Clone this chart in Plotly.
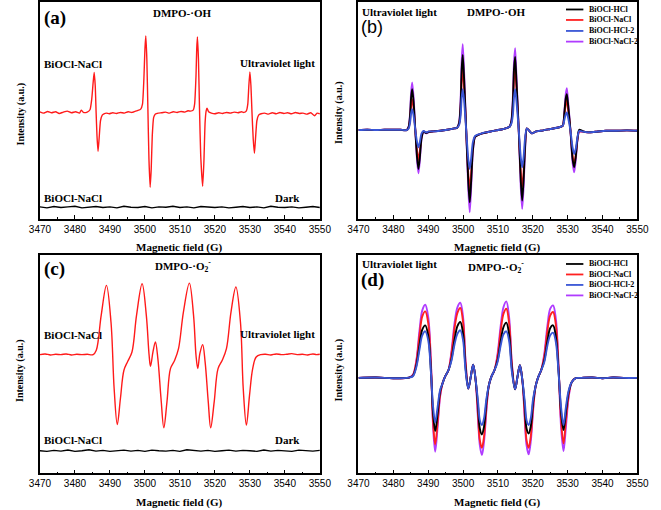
import plotly.graph_objects as go

# ---------------- data (intensity in arbitrary units) ----------------
# Panel (a): DMPO-·OH, BiOCl-NaCl, UV light (red) and dark (black)
A_UV_X = [3470, 3471, 3472.2, 3473.3, 3474.5, 3475.5, 3476.7, 3477.8, 3479, 3480.2, 3481.3, 3481.8, 3482.4, 3483.5,
          3484.3, 3484.8, 3485.2, 3485.5, 3485.8, 3486.05, 3486.3, 3486.6, 3486.9, 3487.3, 3487.8, 3488.3, 3489,
          3489.8, 3490.8, 3491.9, 3493, 3494.1, 3495.2, 3496.3, 3497.3,
          3498.0, 3498.8, 3499.3, 3499.7, 3500.0, 3500.25, 3500.55, 3500.85, 3501.15, 3501.5, 3501.8, 3502.1, 3502.5, 3503.0, 3503.8,
          3504.8, 3505.9, 3507, 3508.1, 3509.2, 3510.3, 3511.4, 3512.3,
          3513.0, 3513.8, 3514.2, 3514.6, 3514.8, 3515.0, 3515.3, 3515.6, 3515.95, 3516.5, 3516.85, 3517.2, 3517.5, 3517.75, 3518.2, 3519.0,
          3520, 3521.1, 3522.2, 3523.3, 3524.4, 3525.5, 3526.6, 3527.6,
          3528.3, 3529.0, 3529.4, 3529.7, 3530.0, 3530.3, 3530.6, 3530.95, 3531.3, 3531.6, 3532.0, 3532.5, 3533.2,
          3534.2, 3535.3, 3536.4, 3537.5, 3538.6, 3539.7, 3540.8, 3541.9, 3543, 3544.1, 3545.2, 3546.3, 3547.4, 3548.5, 3549.2, 3550]
A_UV_Y = [322, 318, 323, 319, 322, 317, 321, 324, 319, 322, 318, 327, 320, 321,
          328, 360, 410, 440, 400, 320, 250, 203, 240, 295, 312, 316, 318,
          316, 319, 317, 320, 318, 322, 320, 324,
          326, 330, 345, 420, 510, 550, 480, 330, 180, 95, 150, 250, 305, 315, 318,
          319, 321, 318, 322, 320, 323, 321, 325,
          324, 327, 345, 430, 510, 547, 480, 330, 190, 98, 170, 290, 325, 333, 322, 318,
          316, 319, 317, 320, 318, 321, 319, 322,
          320, 325, 345, 400, 442, 400, 320, 240, 197, 240, 295, 312, 316,
          318, 315, 319, 316, 320, 317, 319, 316, 320, 317, 318, 315, 319, 310, 318, 316]

DARK_X = [3470, 3472, 3474, 3476, 3478, 3480, 3482, 3484, 3486, 3488, 3490, 3492, 3494, 3496, 3498, 3500,
          3502, 3504, 3506, 3508, 3510, 3512, 3514, 3516, 3518, 3520, 3522, 3524, 3526, 3528, 3530, 3532,
          3534, 3536, 3538, 3540, 3542, 3544, 3546, 3548, 3550]
A_DARK_Y = [36, 33, 37, 34, 36, 38, 33, 35, 37, 34, 36, 33, 38, 35, 34, 37, 33, 36, 35, 38, 34, 36, 33, 37, 35,
            34, 36, 33, 35, 37, 34, 36, 33, 38, 35, 34, 36, 33, 35, 37, 34]

# Panel (b): DMPO-·OH, four samples under UV light
B_X = [3470, 3472.5, 3475, 3477.5, 3480, 3482,
       3483.8, 3484.4, 3484.8, 3485.1, 3485.4, 3485.8, 3486.3, 3486.8, 3487.2, 3487.6, 3488.1, 3488.7, 3489.4, 3490.2,
       3491.5, 3493.5, 3495.5, 3497.5,
       3498.3, 3498.9, 3499.3, 3499.6, 3499.9, 3500.3, 3500.9, 3501.5, 3501.9, 3502.3, 3502.8, 3503.4, 3504.2, 3505.5, 3507.5, 3509.5, 3511.5, 3513.0,
       3513.4, 3513.9, 3514.3, 3514.6, 3514.93, 3515.3, 3515.95, 3516.55, 3516.95, 3517.35, 3517.8, 3518.3, 3519.7, 3521.0, 3523.0, 3525.0, 3527.0, 3528.0,
       3528.6, 3529.1, 3529.45, 3529.75, 3530.1, 3530.8, 3531.4, 3531.86, 3532.3, 3532.8, 3533.3, 3534.5, 3536, 3538, 3541, 3544, 3547, 3550]
B_HCL = [267, 268, 267, 268, 268, 268,
         267, 277, 310, 365, 390, 353, 267, 185, 150, 185, 244, 263, 258, 262,
         263, 265, 268, 272,
         274, 290, 345, 450, 493, 420, 265, 110, 50, 110, 205, 246, 252, 257, 262, 266, 270, 275,
         278, 296, 355, 450, 487, 415, 270, 115, 55, 115, 220, 272, 257, 263, 266, 270, 274, 277,
         280, 325, 362, 375, 345, 265, 180, 155, 185, 240, 268, 263, 260, 262, 265, 265, 266, 265]
B_NACL = [267, 268, 267, 268, 268, 268,
          267, 274, 300, 341, 360, 332, 267, 204, 177, 204, 249, 263, 259, 262,
          263, 265, 268, 272,
          274, 287, 330, 415, 450, 395, 265, 135, 90, 135, 215, 247, 252, 257, 262, 266, 270, 275,
          278, 292, 340, 420, 450, 395, 270, 140, 95, 140, 230, 272, 257, 263, 266, 270, 274, 277,
          280, 315, 345, 355, 330, 265, 190, 165, 190, 240, 263, 262, 260, 262, 265, 265, 266, 265]
B_HCL2 = [267, 268, 267, 268, 268, 268,
          267, 272, 289, 317, 330, 311, 267, 231, 215, 231, 257, 264, 260, 263,
          263, 265, 268, 272,
          274, 283, 310, 365, 390, 355, 265, 180, 150, 180, 230, 249, 253, 258, 262, 266, 270, 275,
          278, 288, 315, 365, 390, 355, 270, 185, 155, 185, 245, 272, 257, 263, 266, 270, 274, 277,
          280, 300, 315, 320, 305, 265, 215, 195, 210, 245, 264, 262, 260, 262, 265, 265, 266, 265]
B_NACL2 = [267, 268, 267, 268, 268, 268,
           267, 278, 317, 381, 410, 367, 267, 176, 137, 176, 241, 262, 257, 261,
           263, 265, 268, 272,
           274, 293, 360, 475, 525, 440, 265, 90, 20, 90, 200, 245, 252, 257, 262, 266, 270, 275,
           278, 300, 370, 470, 513, 430, 270, 95, 30, 95, 210, 272, 257, 263, 266, 270, 274, 277,
           280, 330, 375, 393, 355, 265, 170, 140, 175, 235, 262, 262, 260, 262, 265, 265, 266, 265]

# Panel (c): DMPO-·O2-, BiOCl-NaCl, UV light (red) and dark (black)
C_UV_X = [3470, 3471.5, 3473, 3474.5, 3476, 3477.5, 3479, 3480.5, 3482, 3483.5,
          3485.2, 3486.1, 3487.5, 3489.0, 3490.3, 3491.2, 3492.1, 3493.0, 3494.0, 3495.1,
          3496.3, 3497.6, 3499.2, 3500.4, 3501.2, 3501.6, 3502.3, 3503.0, 3503.7, 3504.6,
          3505.4, 3506.3, 3507.3, 3508.5, 3509.6, 3511.0, 3512.7, 3513.9, 3514.6, 3515.1,
          3515.7, 3516.5, 3517.2, 3518.1, 3518.8, 3519.8, 3520.9, 3522.1, 3523.3, 3524.6,
          3526.0, 3527.3, 3528.1, 3529.0, 3529.9, 3530.8, 3531.8, 3533.1,
          3534.5, 3536, 3537.5, 3539, 3540.5, 3542, 3543.5, 3545, 3546.5, 3548, 3549, 3550]
C_UV_Y = [357, 359, 356, 358, 357, 359, 356, 358, 357, 358,
          357, 370, 475, 565, 455, 255, 147, 225, 310, 337,
          365, 475, 570, 475, 355, 322, 365, 395, 345, 225,
          137, 215, 315, 340, 375, 485, 572, 475, 355, 315,
          360, 387, 335, 215, 137, 215, 315, 340, 375, 485,
          560, 455, 255, 145, 235, 315, 350, 357,
          358, 356, 359, 357, 358, 360, 357, 358, 356, 359, 357, 358]
C_DARK_Y = [68, 66, 69, 67, 70, 66, 68, 71, 67, 69, 66, 68, 70, 67, 69, 66, 70, 68, 67, 69, 66,
            71, 68, 67, 69, 66, 68, 70, 67, 69, 68, 66, 70, 67, 69, 68, 66, 70, 68, 67, 69]

# Panel (d): DMPO-·O2-, four samples under UV light
D_X = [3470, 3475, 3480, 3484.5, 3485.6, 3486.6, 3487.5, 3488.3, 3489.15, 3490.0, 3490.8, 3491.4, 3492.0, 3492.7,
       3493.4, 3494.1, 3494.8, 3495.8, 3496.7, 3497.6, 3498.4, 3499.2, 3500.0, 3500.7,
       3501.5, 3502.2, 3502.9, 3503.6, 3504.3, 3504.8, 3505.4, 3506.0, 3506.7, 3507.4,
       3508.1, 3509.0, 3509.9, 3510.8, 3511.6, 3512.4, 3513.2, 3514.0, 3514.9, 3515.6,
       3516.3, 3517.0, 3517.7, 3518.2, 3518.8, 3519.4, 3520.1, 3520.8, 3521.5, 3522.4,
       3523.3, 3524.2, 3525.0, 3525.8, 3526.6, 3527.4, 3528.1, 3528.8, 3529.5, 3530.3,
       3531.2, 3532.3, 3534, 3537, 3540, 3543, 3546, 3550]
D_NACL2 = [287, 288, 286, 288, 296, 340, 430, 490, 507, 470, 330, 140, 65, 140,
           230, 270, 290, 310, 370, 455, 500, 513, 470, 340,
           255, 290, 327, 280, 160, 85, 55, 95, 190, 265,
           290, 310, 360, 445, 500, 517, 470, 330, 253, 290,
           325, 280, 160, 85, 57, 95, 190, 262, 288, 310,
           360, 445, 495, 505, 465, 320, 140, 67, 140, 230,
           275, 286, 287, 288, 286, 288, 287, 287]
D_NACL = [287, 288, 286, 288, 295, 335, 415, 472, 487, 452, 320, 155, 87, 155,
          235, 270, 290, 310, 362, 440, 483, 497, 455, 335,
          255, 290, 327, 280, 175, 100, 77, 110, 200, 265,
          290, 310, 352, 430, 480, 495, 452, 325, 253, 290,
          325, 280, 175, 100, 77, 110, 200, 262, 288, 310,
          352, 430, 475, 485, 448, 315, 160, 90, 160, 237,
          275, 286, 287, 288, 286, 288, 287, 287]
D_HCL = [287, 288, 286, 288, 293, 325, 385, 432, 445, 415, 305, 180, 127, 180,
         245, 270, 290, 310, 345, 405, 443, 455, 420, 320,
         255, 290, 327, 280, 200, 135, 117, 140, 215, 265,
         290, 310, 340, 398, 440, 453, 418, 315, 253, 290,
         325, 280, 200, 135, 120, 140, 215, 262, 288, 310,
         340, 398, 437, 445, 412, 305, 185, 130, 185, 245,
         275, 286, 287, 288, 286, 288, 287, 287]
D_HCL2 = [287, 288, 286, 288, 292, 320, 372, 415, 427, 400, 300, 200, 153, 200,
          250, 270, 290, 310, 340, 390, 420, 430, 400, 310,
          255, 290, 327, 280, 215, 160, 145, 165, 225, 265,
          290, 310, 335, 385, 418, 427, 398, 305, 253, 290,
          325, 280, 215, 160, 145, 165, 225, 262, 288, 310,
          335, 385, 415, 423, 395, 300, 200, 145, 200, 250,
          275, 286, 287, 288, 286, 288, 287, 287]

SERIES_NAMES = ["BiOCl-HCl", "BiOCl-NaCl", "BiOCl-HCl-2", "BiOCl-NaCl-2"]
SERIES_COLORS = ["#000000", "#ff2020", "#3a56d6", "#b03cff"]
X_TICKS = [3470, 3480, 3490, 3500, 3510, 3520, 3530, 3540, 3550]

# ---------------- figure ----------------
W, H = 661, 510
fig = go.Figure()

def add(x, y, color, ax, width=1.5, smooth=0.8, shape="spline"):
    line = dict(color=color, width=width, shape=shape)
    if shape == "spline":
        line["smoothing"] = smooth
    fig.add_trace(go.Scatter(x=x, y=y, mode="lines", line=line,
                             xaxis="x" + ax, yaxis="y" + ax, showlegend=False, hoverinfo="skip"))

# (a)
add(A_UV_X, A_UV_Y, "#ff1a1a", "", 1.4, 0.5)
add(DARK_X, A_DARK_Y, "#000000", "", 1.4, shape="linear")
# (b) draw order: purple, red, black, blue
for ys, ci in [(B_NACL2, 3), (B_NACL, 1), (B_HCL, 0), (B_HCL2, 2)]:
    add(B_X, ys, SERIES_COLORS[ci], "2", 1.9, 0.7)
# (c)
add(C_UV_X, C_UV_Y, "#ff1a1a", "3", 1.4, 1.0)
add(DARK_X, C_DARK_Y, "#000000", "3", 1.4, shape="linear")
# (d)
for ys, ci in [(D_NACL2, 3), (D_NACL, 1), (D_HCL, 0), (D_HCL2, 2)]:
    add(D_X, ys, SERIES_COLORS[ci], "4", 1.9, 1.0)

def px(x):
    return x / W

def py(y):
    return 1 - y / H

xcommon = dict(range=[3470, 3550], tickvals=X_TICKS, ticks="inside", ticklen=4, tickwidth=1,
               tickcolor="black", showline=True, linecolor="black", linewidth=1.5, mirror=True,
               showgrid=False, zeroline=False,
               tickfont=dict(family="Liberation Sans", size=10, color="black"),
               minor=dict(tickvals=[3475, 3485, 3495, 3505, 3515, 3525, 3535, 3545],
                          ticks="inside", ticklen=2, tickcolor="black", tickwidth=1))
ycommon = dict(showticklabels=False, ticks="", showline=True, linecolor="black", linewidth=1.5,
               mirror=True, showgrid=False, zeroline=False)

XL = [px(30), px(320)]
XR = [px(360), px(649)]
YT = [py(218.3), py(1)]
YB = [py(473.3), py(254.3)]

fig.update_layout(
    width=W, height=H, margin=dict(l=0, r=0, t=0, b=0),
    paper_bgcolor="white", plot_bgcolor="white", showlegend=False,
    xaxis=dict(domain=XL, anchor="y", **xcommon),
    yaxis=dict(domain=YT, anchor="x", range=[0, 652], **ycommon),
    xaxis2=dict(domain=XR, anchor="y2", **xcommon),
    yaxis2=dict(domain=YT, anchor="x2", range=[0, 652], **ycommon),
    xaxis3=dict(domain=XL, anchor="y3", **xcommon),
    yaxis3=dict(domain=YB, anchor="x3", range=[0, 657], **ycommon),
    xaxis4=dict(domain=XR, anchor="y4", **xcommon),
    yaxis4=dict(domain=YB, anchor="x4", range=[0, 657], **ycommon),
)

SERIF = "Liberation Serif"
anns = []

def txt(t, x, y, xa="left", size=11, fam=SERIF, weight="bold", angle=0):
    anns.append(dict(text=t, x=px(x), y=py(y), xref="paper", yref="paper", xanchor=xa,
                     yanchor="middle", showarrow=False, textangle=angle,
                     font=dict(family=fam, size=size, color="black", weight=weight)))

OH = "DMPO-·OH"
O2 = "DMPO-·O<sub>2</sub><sup>-</sup>"

# panel (a)
txt("(a)", 32, 17, size=19)
txt(OH, 177, 12, "center")
txt("BiOCl-NaCl", 32, 63)
txt("Ultraviolet light", 317, 62, "right")
txt("BiOCl-NaCl", 32, 197)
txt("Dark", 301, 197, "right")
# panel (b)
txt("Ultraviolet light", 362, 11.5)
txt("(b)", 361, 26, size=18, fam="Liberation Sans", weight="normal")
txt(OH, 502, 11.5, "center")
# panel (c)
txt("(c)", 32, 269, size=19)
txt(O2, 178, 266, "center")
txt("BiOCl-NaCl", 32, 335)
txt("Ultraviolet light", 317, 334, "right")
txt("BiOCl-NaCl", 32, 440)
txt("Dark", 301, 440, "right")
# panel (d)
txt("Ultraviolet light", 362, 263.5)
txt("(d)", 361, 280, size=19)
txt(O2, 503, 267, "center")

# axis titles
for cx, cy in [(174, 247), (504, 247), (174, 502), (504, 502)]:
    txt("Magnetic field (G)", cx, cy, "center", size=11)
for cx, cy in [(10, 113), (340, 112), (10, 370), (340, 370)]:
    txt("Intensity (a.u.)", cx, cy, "center", size=10, angle=-90)

# legends for (b) and (d)
shapes = []
for rows in [[8.5, 19, 30, 40.7], [263.5, 274, 284.5, 295]]:
    for name, color, ry in zip(SERIES_NAMES, SERIES_COLORS, rows):
        shapes.append(dict(type="line", xref="paper", yref="paper", x0=px(575), x1=px(593),
                           y0=py(ry), y1=py(ry), line=dict(color=color, width=1.8)))
        txt(name, 596.5, ry, size=8)

fig.update_layout(annotations=anns, shapes=shapes)
fig.write_html("out.html", config={"displayModeBar": False},
               post_script="document.body.style.margin='0';document.body.style.overflow='hidden';")
